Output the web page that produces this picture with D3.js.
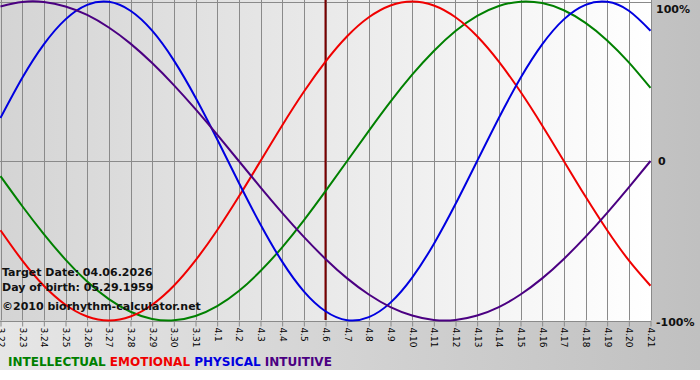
<!DOCTYPE html>
<html><head><meta charset="utf-8">
<script src="https://cdn.jsdelivr.net/npm/d3@7"></script>
<style>html,body{margin:0;padding:0;background:#fff;}svg{display:block;}</style>
</head><body>
<svg id="c" width="700" height="380"></svg>
<script>
const dayLabels = ["3.22","3.23","3.24","3.25","3.26","3.27","3.28","3.29","3.30","3.31","4.1","4.2","4.3","4.4","4.5","4.6","4.7","4.8","4.9","4.10","4.11","4.12","4.13","4.14","4.15","4.16","4.17","4.18","4.19","4.20","4.21"];
const intellectual = [-0.095,-0.282,-0.458,-0.618,-0.756,-0.866,-0.945,-0.990,-0.999,-0.972,-0.910,-0.815,-0.690,-0.541,-0.372,-0.189,0,0.189,0.372,0.541,0.690,0.815,0.910,0.972,0.999,0.990,0.945,0.866,0.756,0.618,0.458];
const emotional = [-0.434,-0.623,-0.782,-0.901,-0.975,-1,-0.975,-0.901,-0.782,-0.623,-0.434,-0.223,0,0.223,0.434,0.623,0.782,0.901,0.975,1,0.975,0.901,0.782,0.623,0.434,0.223,0,-0.223,-0.434,-0.623,-0.782];
const physical = [0.270,0.520,0.731,0.888,0.979,0.998,0.942,0.817,0.631,0.398,0.136,-0.136,-0.398,-0.631,-0.817,-0.942,-0.998,-0.979,-0.888,-0.731,-0.520,-0.270,0,0.270,0.520,0.731,0.888,0.979,0.998,0.942,0.817];
const intuitive = [0.969,0.997,0.997,0.969,0.916,0.837,0.736,0.614,0.476,0.325,0.165,0,-0.165,-0.325,-0.476,-0.614,-0.736,-0.837,-0.916,-0.969,-0.997,-0.997,-0.969,-0.916,-0.837,-0.736,-0.614,-0.476,-0.325,-0.165,0];
const yTicks = [1, 0, -1];
const yTickLabels = ["100%", "0", "-100%"];
const targetIndex = 15;
const infoLines = ["Target Date: 04.06.2026", "Day of birth: 05.29.1959", "\u00a92010 biorhythm-calculator.net"];
const seriesNames = ["INTELLECTUAL", "EMOTIONAL", "PHYSICAL", "INTUITIVE"];
const seriesColors = ["#008000", "#f00000", "#0000e0", "#4b0082"];
const seriesData = [intellectual, emotional, physical, intuitive];

const svg = d3.select("#c");
const defs = svg.append("defs");
const gOuter = defs.append("linearGradient").attr("id","gOuter").attr("x1","0").attr("x2","1").attr("y1","0").attr("y2","0");
gOuter.append("stop").attr("offset","0").attr("stop-color","#e6e6e6");
gOuter.append("stop").attr("offset","1").attr("stop-color","#c0c0c0");
const gPlot = defs.append("linearGradient").attr("id","gPlot").attr("x1","0").attr("x2","1").attr("y1","0").attr("y2","0");
gPlot.append("stop").attr("offset","0").attr("stop-color","#d4d4d4");
gPlot.append("stop").attr("offset","1").attr("stop-color","#ffffff");

svg.append("rect").attr("x",0).attr("y",0).attr("width",700).attr("height",370).attr("fill","url(#gOuter)");

const x = d3.scaleLinear().domain([0, 30]).range([0.5, 650.5]);
const y = d3.scaleLinear().domain([-1, 1]).range([320.5, 1.5]);

svg.append("rect").attr("x",0).attr("y",0).attr("width",651).attr("height",321).attr("fill","url(#gPlot)");

// vertical grid
svg.append("g").selectAll("line").data(d3.range(dayLabels.length)).join("line")
  .attr("x1", d => Math.round(x(d)) + 0.5).attr("x2", d => Math.round(x(d)) + 0.5)
  .attr("y1", 0).attr("y2", 320).attr("stroke", "#8a8a8a").attr("stroke-width", 1);
// horizontal lines
svg.append("g").selectAll("line").data(yTicks).join("line")
  .attr("x1", 0).attr("x2", 651)
  .attr("y1", d => Math.round(y(d)) + 0.5).attr("y2", d => Math.round(y(d)) + 0.5)
  .attr("stroke", "#8a8a8a").attr("stroke-width", 1);

// x axis
const xAxis = d3.axisBottom(x).tickValues(d3.range(dayLabels.length)).tickFormat(i => dayLabels[i]).tickSize(6).tickSizeOuter(0);
const ax = svg.append("g").attr("transform", "translate(0,320.5)").call(xAxis);
ax.select(".domain").remove();
ax.selectAll(".tick line").attr("stroke", "#8a8a8a");
ax.selectAll(".tick text")
  .attr("transform", "rotate(90)")
  .attr("x", 7).attr("y", 0).attr("dy", "0.35em")
  .attr("text-anchor", "start")
  .attr("font-family", "DejaVu Sans, Verdana, sans-serif")
  .attr("font-size", 9).attr("fill", "#000");

// y labels right
const yLabelDy = [11, 4, 5];
svg.append("g").selectAll("text").data(yTicks).join("text")
  .attr("x", (d, i) => i === 1 ? 658 : 656).attr("y", (d, i) => y(d) + yLabelDy[i])
  .attr("font-family", "DejaVu Sans, Verdana, sans-serif").attr("font-weight", "bold")
  .attr("font-size", 11).attr("fill", "#111")
  .text((d, i) => yTickLabels[i]);

// target line
svg.append("line").attr("x1", x(targetIndex)).attr("x2", x(targetIndex)).attr("y1", 0).attr("y2", 320)
  .attr("stroke", "#7a0000").attr("stroke-width", 2);

// curves
const line = d3.line().x((d, i) => x(i)).y(d => y(d)).curve(d3.curveNatural);
svg.append("g").selectAll("path").data(seriesData).join("path")
  .attr("d", d => line(d)).attr("fill", "none")
  .attr("stroke", (d, i) => seriesColors[i]).attr("stroke-width", 2);

// info text
svg.append("g").selectAll("text").data(infoLines).join("text")
  .attr("x", 2).attr("y", (d, i) => [276, 291, 310][i])
  .attr("font-family", "DejaVu Sans, Verdana, sans-serif").attr("font-weight", "bold")
  .attr("font-size", 11).attr("fill", "#111")
  .text(d => d);

// legend
const legend = svg.append("text").attr("x", 8).attr("y", 366)
  .attr("font-family", "DejaVu Sans, Verdana, sans-serif").attr("font-weight", "bold").attr("font-size", 12);
seriesNames.forEach((n, i) => {
  legend.append("tspan").attr("fill", seriesColors[i]).text((i ? " " : "") + n);
});
</script>
</body></html>
